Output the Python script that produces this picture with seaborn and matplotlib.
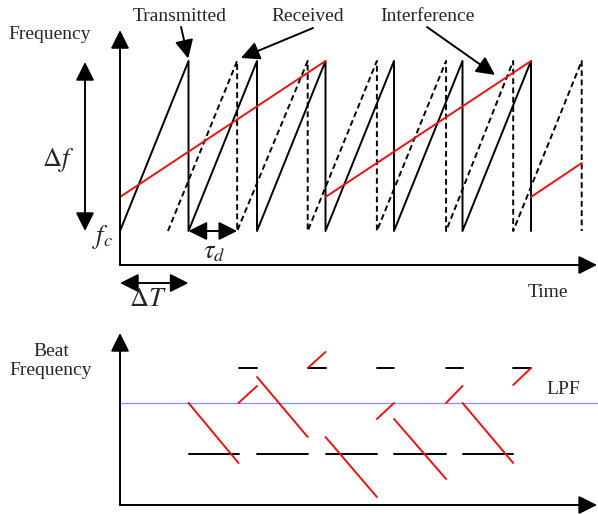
import numpy as np
import pandas as pd
import matplotlib
matplotlib.use("Agg")
import matplotlib.pyplot as plt
import seaborn as sns

# ---------------- data ----------------
# top panel: time in chirp periods (ΔT), frequency normalised (fc..fc+Δf)
f_c = 0.2
f_top = 1.2
tx_peaks = [1.0, 2.0, 3.0, 4.0, 5.0, 6.0]          # transmitted chirp ends
rx_start = 0.70
rx_peaks = [1.71, 2.74, 3.75, 4.76, 5.74, 6.74]    # received (delayed) chirp ends
tau_d = 0.71
intf_t0 = [0.0, 3.0, 6.0]
intf_t1 = [3.0, 6.0, 6.74]
intf_f0 = [0.40, 0.40, 0.40]
intf_f1 = [1.20, 1.20, 0.60]

# bottom panel: beat frequency (arbitrary units)
beat_low = 51
beat_high = 137
lpf_level = 102
low_t0 = [1.0, 2.0, 3.0, 4.0, 5.0]
low_t1 = [1.73, 2.74, 3.75, 4.76, 5.74]
high_t0 = [1.73, 2.74, 3.75, 4.76, 5.74]
high_t1 = [2.0, 3.0, 4.0, 5.0, 6.0]
red_t0 = [1.0, 1.73, 2.0, 2.74, 3.0, 3.75, 4.0, 4.76, 5.0, 5.74]
red_t1 = [1.73, 2.0, 2.74, 3.0, 3.75, 4.0, 4.76, 5.0, 5.74, 6.0]
red_b0 = [102, 102, 128, 137, 68, 86, 86, 102, 102, 120]
red_b1 = [42, 119, 68, 153, 8, 102, 26, 119, 42, 137]

# ---------------- style ----------------
sns.set_theme(style="white")
plt.rcParams["font.family"] = ["Liberation Serif", "DejaVu Serif"]
plt.rcParams["mathtext.fontset"] = "stix"

fig = plt.figure(figsize=(5.98, 5.14), dpi=100)
ax = fig.add_axes([0, 194 / 514, 1, 320 / 514])
bx = fig.add_axes([0, 0, 1, 194 / 514])
for a in (ax, bx):
    a.set_axis_off()
    a.set_xlim(-1.752, 6.978)
ax.set_ylim(-0.3235, 1.5588)
bx.set_ylim(-9, 185)

LW = 1.4
RED = "#ee1111"


def arrow(a, p0, p1, both=False, hl=0.56, hw=0.28, ms=20):
    style = "<|-|>" if both else "-|>"
    a.annotate("", xy=p1, xytext=p0, annotation_clip=False,
               arrowprops=dict(arrowstyle=f"{style},head_length={hl},head_width={hw}",
                               color="black", lw=LW, mutation_scale=ms,
                               shrinkA=0, shrinkB=0))


# transmitted sawtooth
tx_t, tx_f = [0.0], [f_c]
for p in tx_peaks:
    tx_t += [p, p]
    tx_f += [f_top, f_c]
sns.lineplot(x=tx_t, y=tx_f, sort=False, estimator=None, color="black", lw=LW, ax=ax)

# received sawtooth (dashed)
rx_t, rx_f = [rx_start], [f_c]
for p in rx_peaks:
    rx_t += [p, p]
    rx_f += [f_top, f_c]
sns.lineplot(x=rx_t, y=rx_f, sort=False, estimator=None, color="black", lw=LW,
             linestyle=(0, (3.0, 1.8)), ax=ax)

# interference
df_i = pd.DataFrame({
    "t": intf_t0 + intf_t1,
    "f": intf_f0 + intf_f1,
    "seg": list(range(len(intf_t0))) * 2,
})
sns.lineplot(data=df_i, x="t", y="f", units="seg", estimator=None, sort=False,
             color=RED, lw=LW, ax=ax)

# top axes arrows
arrow(ax, (0, 0), (0, 1.382))
arrow(ax, (0, 0), (6.964, 0))
# Δf, ΔT, τd
arrow(ax, (-0.511, f_c), (-0.511, 1.194), both=True)
arrow(ax, (0, -0.106), (1.0, -0.106), both=True)
arrow(ax, (1.0, f_c), (1.0 + tau_d, f_c), both=True)
# annotation arrows
arrow(ax, (0.891, 1.40), (0.995, 1.215))
arrow(ax, (2.818, 1.394), (1.766, 1.218))
arrow(ax, (4.482, 1.40), (5.474, 1.118))

fs = 14
ax.text(-1.022, 1.353, "Frequency", fontsize=fs, ha="center", va="center")
ax.text(0.876, 1.459, "Transmitted", fontsize=fs, ha="center", va="center")
ax.text(2.745, 1.459, "Received", fontsize=fs, ha="center", va="center")
ax.text(4.482, 1.459, "Interference", fontsize=fs, ha="center", va="center")
ax.text(6.248, -0.159, "Time", fontsize=fs, ha="center", va="center")
ax.text(-0.905, 0.618, r"$\mathit{\Delta f}$", fontsize=19, ha="center", va="center")
ax.text(-0.248, 0.165, r"$f_c$", fontsize=19, ha="center", va="center")
ax.text(1.372, 0.0706, r"$\tau_d$", fontsize=19, ha="center", va="center")
ax.text(0.409, -0.206, r"$\mathit{\Delta T}$", fontsize=19, ha="center", va="center")

# ---------------- bottom panel ----------------
bx.axhline(lpf_level, xmin=1.752 / 8.73, xmax=1, color="#8c8cff", lw=0.9)

df_b = pd.DataFrame({
    "t": low_t0 + low_t1 + high_t0 + high_t1,
    "b": [beat_low] * (2 * len(low_t0)) + [beat_high] * (2 * len(high_t0)),
    "seg": list(range(len(low_t0))) * 2 + list(range(10, 10 + len(high_t0))) * 2,
})
sns.lineplot(data=df_b, x="t", y="b", units="seg", estimator=None, sort=False,
             color="black", lw=LW, ax=bx)

df_r = pd.DataFrame({
    "t": red_t0 + red_t1,
    "b": red_b0 + red_b1,
    "seg": list(range(len(red_t0))) * 2,
})
sns.lineplot(data=df_r, x="t", y="b", units="seg", estimator=None, sort=False,
             color=RED, lw=LW, ax=bx)

arrow(bx, (0, 0), (0, 172))
arrow(bx, (0, 0), (6.964, 0))
bx.text(-1.007, 144, "Beat\nFrequency", fontsize=fs, ha="center", va="center",
        linespacing=1.2)
bx.text(6.467, 115, "LPF", fontsize=fs, ha="center", va="center")

for a in (ax, bx):
    if a.get_legend() is not None:
        a.get_legend().remove()

fig.savefig("out.png", dpi=100, facecolor="white")
